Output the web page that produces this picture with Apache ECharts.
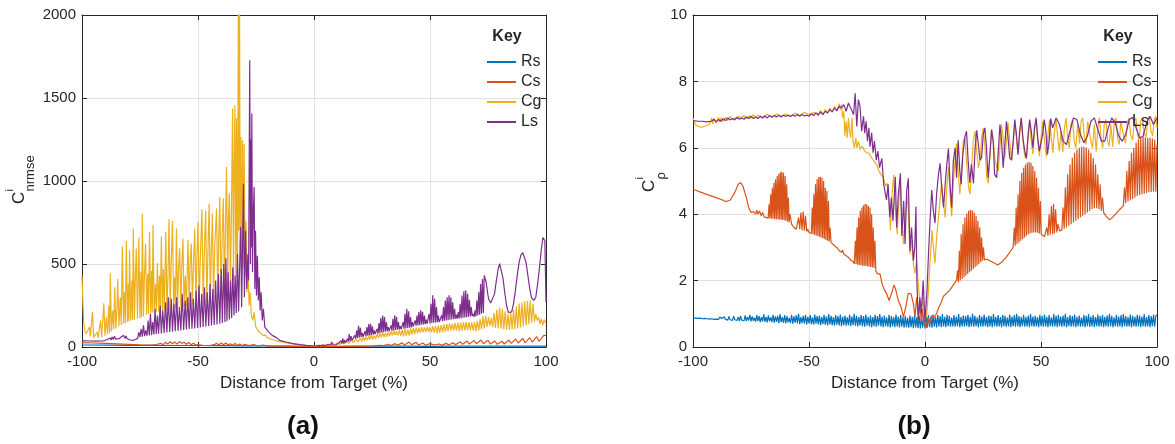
<!DOCTYPE html>
<html>
<head>
<meta charset="utf-8">
<script src="https://cdn.jsdelivr.net/npm/echarts@6/dist/echarts.min.js"></script>
<style>
  html, body { margin: 0; padding: 0; background: #fff; }
  #chart { width: 1175px; height: 444px; }
</style>
</head>
<body>
<div id="chart"></div>
<script>
// ---- shared axis content ----
const seriesNames = ['Rs', 'Cs', 'Cg', 'Ls'];
const seriesColors = ['#0072BD', '#D95319', '#EDB120', '#7E2F8E'];
const xTicks = { min: -100, max: 100, step: 50 };
const nrmseTicks = { min: 0, max: 2000, step: 500 };
const rhoTicks = { min: 0, max: 10, step: 2 };
const xTitle = 'Distance from Target (%)';

// ---- panel (a): normalised RMSE ----
const rsNrmse = [[-100,12],[-90,11],[-80,10],[-70,10],[-60,9],[-50,9],[-40,8],[-30,7],[-20,6],[-10,5],[0,4],[10,4],[20,5],[30,5],[40,5],[50,4],[60,5],[70,5],[80,5],[90,5],[100,5]];

const csNrmse = [[-100,26],[-95,24],[-90,22],[-85,19],[-80,16],[-75,13],[-70,12],[-68,15],[-66,22],[-65,14],[-64,28],[-63,18],[-62,32],[-61,20],[-60,30],[-59,17],[-58,33],[-57,22],[-56,29],[-55,16],[-54,27],[-53,14],[-52,22],[-51,12],[-50,15],[-48,10],[-45,9],[-43,14],[-42,22],[-41,12],[-40,25],[-39,14],[-38,24],[-37,12],[-36,20],[-35,10],[-34,22],[-33,10],[-32,18],[-31,8],[-30,16],[-28,8],[-26,14],[-24,6],[-22,12],[-20,5],[-15,6],[-10,4],[-5,3],[0,2],[5,2],[10,3],[15,4],[20,4],[25,6],[28,10],[30,8],[32,16],[33,9],[35,20],[36,10],[38,25],[39,12],[41,30],[42,14],[44,28],[45,12],[47,24],[48,10],[50,20],[52,12],[54,18],[55,10],[57,22],[58,12],[60,26],[61,14],[63,32],[64,16],[66,36],[67,18],[69,40],[70,20],[72,42],[73,20],[75,40],[76,18],[78,36],[79,16],[81,34],[82,18],[84,42],[85,22],[87,48],[88,24],[90,52],[91,26],[93,56],[94,30],[96,62],[97,34],[99,68],[100,70]];

const cgNrmse = [[-100,430],[-99.6,260],[-99.2,140],[-98.7,95],[-98.2,80],[-97.5,70],[-96.8,120],[-96.4,64],[-95.5,211],[-95,58],[-94.2,54],[-93.5,90],[-93,56],[-92,160],[-91.5,60],[-90.6,263],[-90.1,68],[-89.5,180],[-89,75],[-88.4,250],[-88.1,85],[-87.8,444],[-87.3,95],[-86.7,220],[-86.3,105],[-85.9,360],[-85.4,112],[-84.9,240],[-84.6,410],[-84.1,125],[-83.5,300],[-83.1,132],[-82.6,606],[-82.1,140],[-81.7,330],[-81.3,145],[-80.9,642],[-80.4,150],[-80,380],[-79.8,155],[-79.5,584],[-79,160],[-78.5,400],[-78.2,163],[-77.9,714],[-77.4,166],[-77,420],[-76.6,594],[-76.1,170],[-75.8,380],[-75.5,660],[-75,175],[-74.6,450],[-74.3,180],[-74,803],[-73.5,185],[-73.1,420],[-72.6,624],[-72.1,195],[-71.7,440],[-71.3,200],[-70.9,694],[-70.4,205],[-70,460],[-69.7,207],[-69.4,734],[-68.9,210],[-68.4,380],[-68,212],[-67.5,504],[-67,214],[-66.6,430],[-66.2,216],[-65.8,665],[-65.3,218],[-64.9,470],[-64.5,220],[-63.9,694],[-63.4,222],[-62.9,450],[-62.5,769],[-62,226],[-61.6,480],[-61,760],[-60.5,230],[-60.1,420],[-59.7,232],[-59.3,714],[-58.8,234],[-58.4,460],[-57.9,594],[-57.4,238],[-57,480],[-56.5,654],[-56,242],[-55.5,430],[-55,244],[-54.3,644],[-53.8,248],[-53.4,500],[-52.9,624],[-52.4,254],[-52,470],[-51.4,714],[-50.9,258],[-50.5,520],[-50,754],[-49.5,262],[-49,540],[-48.3,829],[-47.8,268],[-47.3,560],[-46.7,820],[-46.2,272],[-45.7,580],[-45.2,864],[-44.7,280],[-44.3,560],[-43.8,804],[-43.3,288],[-42.8,600],[-42,834],[-41.5,300],[-41.1,620],[-40.6,904],[-40.1,315],[-39.6,650],[-39.1,894],[-38.6,330],[-38.2,700],[-37.7,1084],[-37.2,345],[-36.9,760],[-36.5,924],[-36,370],[-35.6,800],[-35.1,1436],[-34.7,400],[-34.4,1100],[-34.1,1456],[-33.7,420],[-33.4,1380],[-33,450],[-32.6,2100],[-32.4,700],[-32.1,2100],[-31.8,600],[-31.5,1265],[-31.2,520],[-30.8,1245],[-30.5,480],[-30.1,1225],[-29.7,420],[-29.3,760],[-28.9,330],[-28.5,520],[-28,250],[-27.5,330],[-27,190],[-26.4,160],[-25.8,210],[-25.1,120],[-24.4,130],[-23.6,90],[-22.8,95],[-21.9,70],[-21,72],[-20,55],[-18,45],[-15.5,35],[-13,28],[-10,20],[-7,14],[-4,10],[-1,7],
[0,8],[1,5],[2,12],[3,7],[4,15],[5,9],[6,18],[7,11],[8,22],[9,13],[10,25],[11,15],[12,30],[13,18],[14,36],[15,22],[16,42],[17,26],[18,48],[19,30],[20,55],[20.6,32],[21.2,60],[21.8,36],[22.4,62],[23,40],[23.6,68],[24.2,44],[24.8,72],[25.4,46],[26,70],[26.6,50],[27.2,78],[27.8,54],[28.4,82],[29,58],[29.6,88],[30.2,60],[30.8,85],[31.4,62],[32,90],[32.6,66],[33.2,96],[33.8,70],[34.4,98],[35,72],[35.6,95],[36.2,70],[36.8,102],[37.4,66],[38,106],[38.6,64],[39.2,110],[39.8,66],[40.4,105],[41,70],[41.6,112],[42.2,74],[42.8,115],[43.4,78],[44,118],[44.6,82],[45.2,116],[45.8,86],[46.4,120],[47,88],[47.6,118],[48.2,90],[48.8,122],[49.4,92],[50,120],[50.6,90],[51.2,126],[51.8,86],[52.4,128],[53,84],[53.6,130],[54.2,86],[54.8,132],[55.4,88],[56,136],[56.6,92],[57.2,140],[57.8,96],[58.4,142],[59,98],[59.6,140],[60.2,100],[60.8,144],[61.4,98],[62,146],[62.6,96],[63.2,148],[63.8,98],[64.4,150],[65,100],[65.6,152],[66.2,102],[66.8,150],[67.4,100],[68,148],[68.6,98],[69.2,152],[69.8,96],[70.4,158],[71,100],[71.6,168],[72.2,106],[72.8,185],[73.4,112],[74,188],[74.6,120],[75.2,180],[75.8,128],[76.4,175],[77,120],[77.6,205],[78.2,115],[78.8,225],[79.4,112],[80,238],[80.6,110],[81.2,230],[81.8,106],[82.4,215],[83,104],[83.6,200],[84.2,102],[84.8,205],[85.4,104],[86,222],[86.6,108],[87.2,245],[87.8,112],[88.4,262],[89,118],[89.6,270],[90.2,124],[90.8,275],[91.4,130],[92,278],[92.6,138],[93.2,280],[93.8,146],[94.4,262],[95,152],[95.6,200],[96.2,160],[96.8,180],[97.4,140],[98,170],[98.6,130],[99.2,165],[100,140]];

const lsNrmse = [[-100,38],[-97,36],[-94,35],[-91,36],[-89,45],[-88.5,40],[-88,55],[-87.5,42],[-87,60],[-86.5,45],[-86,65],[-85.5,48],[-85,58],[-84,50],[-83,62],[-82.5,50],[-82,70],[-81.5,52],[-81,66],[-80.5,50],[-80,55],[-79,42],[-78,40],[-77,45],[-76,52],[-75.5,90],[-75,60],[-74.5,110],[-74,62],[-73.5,130],[-73,65],[-72.5,100],[-72,68],[-71.5,160],[-71,70],[-70.5,200],[-70,72],[-69.5,150],[-69,75],[-68.5,230],[-68,78],[-67.5,190],[-67,80],[-66.3,250],[-65.8,82],[-65.2,220],[-64.6,85],[-64,270],[-63.4,88],[-62.8,300],[-62.2,90],[-61.5,290],[-61,92],[-60.4,260],[-59.8,95],[-59.2,300],[-58.6,98],[-58,240],[-57.4,100],[-56.8,320],[-56.2,102],[-55.5,280],[-55,105],[-54.4,300],[-53.8,108],[-53.2,330],[-52.6,110],[-52,290],[-51.4,112],[-50.8,340],[-50.2,115],[-49.6,370],[-49,118],[-48.4,320],[-47.8,120],[-47.2,360],[-46.6,123],[-46,330],[-45.4,126],[-44.8,380],[-44.2,130],[-43.6,350],[-43,133],[-42.4,400],[-41.8,136],[-41.2,440],[-40.6,140],[-40,470],[-39.5,145],[-38.9,500],[-38.4,150],[-38,534],[-37.5,155],[-37,450],[-36.5,165],[-36,400],[-35.5,175],[-35,480],[-34.5,190],[-34,430],[-33.5,205],[-33,560],[-32.5,215],[-32,520],[-31.6,723],[-31.2,240],[-30.8,600],[-30.4,984],[-30,300],[-29.5,700],[-29,350],[-28.5,560],[-28.2,400],[-27.7,1727],[-27.4,500],[-27.2,1250],[-27,600],[-26.8,1406],[-26.5,450],[-26.2,800],[-25.8,964],[-25.5,350],[-25.2,700],[-24.8,311],[-24.4,550],[-24,280],[-23.6,420],[-23.2,220],[-22.8,330],[-22.3,160],[-21.8,230],[-21.2,120],[-20.5,120],[-19.5,90],[-18,70],[-16,55],[-14.8,40],[-12,30],[-9,20],[-6,14],[-3.3,10],
[0,6],[2,8],[4,10],[5,9],[6,14],[6.4,10],[6.8,22],[7.2,12],[7.6,30],[8,13],[8.4,24],[8.8,12],[9.4,12],[10,12],[10.8,25],[11.2,16],[11.6,38],[12,20],[12.4,52],[12.8,22],[13.2,42],[13.6,26],[14,30],[14.4,50],[14.8,32],[15.2,78],[15.6,36],[16,65],[16.4,40],[16.8,48],[17.2,45],[17.6,70],[18,50],[18.4,100],[18.8,55],[19.2,128],[19.6,58],[20,115],[20.4,60],[20.8,85],[21.2,62],[21.6,70],[22,95],[22.4,65],[22.8,120],[23.2,68],[23.6,138],[24,70],[24.4,140],[24.8,72],[25.2,125],[25.6,75],[26,100],[26.4,78],[26.8,85],[27.2,110],[27.6,80],[28,145],[28.4,84],[28.8,175],[29.2,88],[29.6,190],[30,90],[30.4,180],[30.8,92],[31.2,150],[31.6,94],[32,120],[32.4,96],[32.8,100],[33.2,130],[33.6,98],[34,170],[34.4,100],[34.8,191],[35.2,102],[35.6,180],[36,104],[36.4,150],[36.8,106],[37.2,125],[37.6,108],[38,112],[38.4,150],[38.8,110],[39.2,200],[39.6,112],[40,231],[40.4,114],[40.8,215],[41.2,116],[41.6,180],[42,118],[42.4,150],[42.8,125],[43.2,135],[43.6,160],[44,128],[44.4,190],[44.8,130],[45.2,210],[45.6,132],[46,221],[46.4,134],[46.8,212],[47.2,136],[47.6,190],[48,138],[48.4,165],[48.8,140],[49.2,145],[49.6,200],[50,142],[50.4,260],[50.8,144],[51.2,311],[51.6,146],[52,290],[52.4,148],[52.8,240],[53.2,150],[53.6,190],[54,150],[54.5,155],[55,190],[55.4,155],[55.8,240],[56.2,158],[56.6,280],[57,160],[57.4,300],[57.8,162],[58.2,311],[58.6,164],[59,300],[59.4,166],[59.8,270],[60.2,168],[60.6,230],[61,170],[61.4,195],[61.8,170],[62.2,210],[62.6,172],[63,260],[63.4,174],[63.8,310],[64.2,176],[64.6,335],[65,178],[65.4,341],[65.8,180],[66.2,320],[66.6,182],[67,285],[67.4,184],[67.8,240],[68.2,186],[68.6,200],[69,181],[69.4,220],[69.8,185],[70.2,280],[70.6,190],[71,330],[71.4,195],[71.8,380],[72.2,200],[72.6,410],[73,205],[73.4,432],[73.8,420],[74.2,390],[74.6,350],[75,310],[75.5,280],[76.2,266],[77,270],[77.8,320],[78.6,400],[79.4,470],[80,502],[80.6,490],[81.4,420],[82.2,330],[83,250],[83.8,208],[84.5,201],[85.2,212],[86,260],[86.8,340],[87.6,430],[88.4,510],[89.2,555],[90,568],[90.6,560],[91.4,510],[92.2,430],[93,350],[93.8,295],[94.8,281],[95.6,300],[96.4,380],[97.2,480],[98,590],[98.7,660],[99.1,669],[99.5,640],[99.8,420],[100,271]];

// ---- panel (b): correlation ----
// Rs is sampled every 0.5 % from -100 to 100
const rsRhoStep = 0.5;
const rsRho = [0.88,0.9,0.87,0.89,0.86,0.9,0.87,0.88,0.85,0.89,
0.86,0.88,0.85,0.9,0.84,0.87,0.85,0.89,0.83,0.88,
0.84,0.87,0.83,0.9,0.84,0.86,0.82,0.91,0.83,0.88,
0.81,0.92,0.82,0.87,0.8,0.93,0.82,0.88,0.8,0.9,
0.79,0.94,0.81,0.87,0.79,
0.95,0.78,0.9,0.8,0.97,0.77,0.92,0.79,0.88,0.76,
0.96,0.78,0.93,0.75,0.9,0.77,0.98,0.76,0.91,0.74,
0.95,0.77,0.89,0.75,0.97,0.73,0.92,0.76,0.94,0.72,
0.99,0.75,0.9,0.73,0.96,0.71,0.93,0.74,0.88,0.72,
0.97,0.7,0.92,0.73,0.95,0.71,1.0,0.69,0.9,0.72,
0.94,0.7,0.97,0.68,0.91,0.71,0.96,0.69,0.89,0.67,
0.98,0.7,0.93,0.68,0.95,0.66,0.9,0.69,0.97,0.67,
0.92,0.65,0.99,0.68,0.94,0.66,0.9,0.64,0.96,0.67,
0.93,0.65,0.98,0.63,0.91,0.66,0.95,0.64,0.89,0.65,
0.97,0.63,0.92,0.66,1.0,0.64,0.94,0.62,0.9,0.65,
0.96,0.63,0.93,0.61,0.98,0.64,0.91,0.62,0.95,0.6,
0.9,0.63,0.97,0.61,0.93,0.64,0.99,0.62,0.92,0.6,
0.95,0.63,0.89,0.61,0.97,0.59,0.93,0.62,0.9,0.6,
0.98,0.62,0.92,0.59,0.96,0.61,0.9,0.58,0.94,0.6,
0.88,0.58,0.95,0.6,0.91,0.57,0.97,0.59,0.9,0.57,
0.93,0.56,0.89,0.58,0.95,0.56,0.91,0.58,0.96,0.6,
0.92,0.58,0.98,0.61,0.9,0.59,0.96,0.62,0.93,0.6,
0.99,0.62,0.91,0.6,0.97,0.63,0.94,0.61,0.89,0.62,
0.96,0.61,0.92,0.63,0.99,0.6,0.9,0.62,0.95,0.61,
0.93,0.63,0.97,0.6,0.91,0.62,1.0,0.61,0.94,0.63,
0.89,0.6,0.96,0.62,0.92,0.61,0.98,0.63,0.9,0.6,
0.95,0.62,0.93,0.6,0.99,0.63,0.91,0.61,0.96,0.62,
0.9,0.6,0.97,0.63,0.94,0.61,0.89,0.62,0.98,0.6,
0.92,0.63,0.96,0.61,1.0,0.62,0.93,0.6,0.9,0.63,
0.97,0.61,0.91,0.62,0.95,0.6,0.99,0.63,0.92,0.61,
0.94,0.62,0.9,0.6,0.97,0.63,0.93,0.61,0.98,0.62,
0.91,0.6,0.96,0.63,0.89,0.61,0.99,0.62,0.94,0.6,
0.97,0.63,0.92,0.61,0.95,0.62,1.0,0.6,0.9,0.63,
0.96,0.61,0.93,0.62,0.98,0.6,0.91,0.63,0.95,0.61,
0.89,0.62,0.97,0.6,0.94,0.63,0.99,0.61,0.92,0.62,
0.96,0.6,0.9,0.63,0.98,0.61,0.93,0.62,0.97,0.6,
0.91,0.63,0.95,0.61,1.0,0.62,0.94,0.6,0.89,0.63,
0.97,0.61,0.92,0.62,0.96,0.6,0.99,0.63,0.93,0.61,
0.9,0.62,0.98,0.6,0.94,0.63,0.91,0.61,0.97,0.62,
0.95,0.6,0.92,0.63,0.99,0.61,0.9,0.62,0.96,0.6,
0.93,0.63,0.98,0.61,0.94,0.96];

const csRho = [[-100,4.75],[-95,4.62],[-90,4.5],[-87,4.42],[-86,4.38],[-84,4.42],[-82,4.65],[-80.5,4.9],[-79.5,4.95],[-78.5,4.85],[-77,4.5],[-76,4.2],[-75,4.05],[-74,4.08],[-73,4.0],[-72.5,4.12],[-72,4.0],[-71.3,4.1],[-70.6,3.95],[-70,4.05],[-69.3,3.92],[-68.6,3.96],[-67.6,3.88],
[-67.2,4.3],[-66.9,3.87],[-66.5,4.6],[-66.2,3.86],[-65.8,4.8],[-65.5,3.86],[-65.1,4.95],[-64.8,3.85],[-64.4,5.05],[-64.1,3.85],[-63.7,5.15],[-63.4,3.84],[-63,5.22],[-62.7,3.84],[-62.3,5.26],[-62,3.83],[-61.7,5.28],[-61.4,3.83],[-61,5.25],[-60.7,3.82],[-60.3,5.15],[-60,3.8],[-59.6,4.9],[-59.3,3.78],[-58.9,4.5],[-58.6,3.75],[-58.2,4.0],[-57.5,3.7],[-56.5,3.6],[-55.5,3.55],
[-54.5,3.9],[-54,3.55],[-53.5,4.05],[-53,3.52],[-52.5,4.08],[-52,3.5],[-51.5,3.95],[-51,3.48],[-50.5,3.55],[-50,3.45],[-49.5,3.5],[-49,3.42],
[-48.6,4.2],[-48.3,3.4],[-47.9,4.6],[-47.6,3.38],[-47.2,4.9],[-46.9,3.36],[-46.5,5.05],[-46.2,3.34],[-45.8,5.12],[-45.5,3.32],[-45.1,5.13],[-44.8,3.3],[-44.4,5.1],[-44.1,3.28],[-43.7,5.0],[-43.4,3.25],[-43,4.8],[-42.7,3.22],[-42.3,4.7],[-42,3.2],[-41.6,4.4],[-41.3,3.18],[-40.9,3.6],[-40.5,3.15],[-39,3.05],[-38,3.0],
[-37.5,2.95],[-37,2.9],[-36.5,2.96],[-36,2.85],[-35.5,2.92],[-35,2.8],[-34,2.75],[-33,2.7],[-32,2.62],[-31,2.57],[-30.5,2.5],
[-30,3.2],[-29.7,2.5],[-29.3,3.6],[-29,2.48],[-28.6,3.9],[-28.3,2.47],[-27.9,4.1],[-27.6,2.46],[-27.2,4.2],[-26.9,2.45],[-26.5,4.27],[-26.2,2.45],[-25.8,4.31],[-25.5,2.44],[-25.1,4.3],[-24.8,2.43],[-24.4,4.25],[-24.1,2.42],[-23.7,4.2],[-23.4,2.41],[-23,4.0],[-22.7,2.4],[-22.3,3.6],[-22,2.38],[-21.6,3.2],[-21.2,2.3],[-20.5,2.2],[-19.4,2.2],[-18.5,1.9],[-17.5,1.72],[-16.5,1.6],[-15.5,1.4],[-14.5,1.6],[-13.3,1.87],[-12.5,1.7],[-11.5,1.4],[-10.3,1.2],[-9.3,0.91],[-8.3,1.2],[-7.2,1.62],[-6,1.6],[-5,1.3],[-4.3,0.91],[-3.6,1.5],[-2.8,0.9],[-2.2,1.4],[-1.6,0.75],[-1,1.15],[-0.5,0.66],[0,0.8],[0.7,0.58],[1.3,0.9],[2,0.7],[3,0.95],[4,0.9],[5,1.01],[6,1.2],[7,1.35],[7.9,1.52],[9,1.6],[10.8,1.72],[12,1.85],[13.6,2.02],
[14,2.3],[14.4,1.95],[14.8,2.9],[15.2,2.0],[15.6,3.4],[16,2.05],[16.4,3.7],[16.8,2.1],[17.2,3.9],[17.6,2.15],[18,4.02],[18.4,2.2],[18.8,4.1],[19.2,2.25],[19.6,4.13],[20,2.3],[20.4,4.12],[20.8,2.35],[21.2,4.05],[21.6,2.4],[22,3.95],[22.4,2.45],[22.8,3.8],[23.2,2.5],[23.6,3.6],[24,2.55],[24.4,3.3],[24.8,2.6],[25.2,3.0],[25.6,2.62],[26.5,2.65],[28,2.6],[30,2.52],[31.4,2.47],[33,2.55],[35.2,2.72],[37,2.9],[38,3.0],
[38.5,3.6],[38.9,3.05],[39.3,4.2],[39.7,3.1],[40.1,4.6],[40.5,3.15],[40.9,5.0],[41.3,3.2],[41.7,5.25],[42.1,3.25],[42.5,5.4],[42.9,3.3],[43.3,5.5],[43.7,3.35],[44.1,5.56],[44.5,3.4],[44.9,5.58],[45.3,3.42],[45.7,5.55],[46.1,3.44],[46.5,5.45],[46.9,3.45],[47.3,5.3],[47.7,3.45],[48.1,5.1],[48.5,3.44],[48.9,4.8],[49.3,3.42],[49.7,4.4],[50.1,3.4],[50.6,3.35],[51.5,3.32],
[52.5,3.6],[53,3.35],[53.5,4.0],[54,3.38],[54.5,4.25],[55,3.4],[55.4,4.31],[55.8,3.42],[56.3,4.15],[56.8,3.45],[57.3,3.7],[58,3.5],[59,3.52],
[59.5,4.2],[60,3.56],[60.5,4.8],[61,3.6],[61.5,5.2],[62,3.65],[62.5,5.5],[63,3.7],[63.5,5.7],[64,3.75],[64.5,5.85],[65,3.8],[65.5,5.95],[66,3.85],[66.5,6.0],[67,3.9],[67.5,6.03],[68,3.95],[68.5,6.03],[69,4.0],[69.5,6.0],[70,4.05],[70.5,5.95],[71,4.1],[71.5,5.85],[72,4.15],[72.5,5.7],[73,4.18],[73.5,5.5],[74,4.18],[74.5,5.2],[75,4.15],[75.5,4.9],[76,4.1],[76.5,4.5],[77,4.05],[78,3.95],[79.6,3.83],[81,3.92],[82.5,4.03],[84,4.15],[85.5,4.25],
[86,4.8],[86.5,4.33],[87,5.3],[87.5,4.38],[88,5.6],[88.5,4.42],[89,5.85],[89.5,4.46],[90,6.0],[90.5,4.5],[91,6.15],[91.5,4.55],[92,6.25],[92.5,4.58],[93,6.3],[93.5,4.6],[94,6.33],[94.5,4.62],[95,6.32],[95.5,4.64],[96,6.3],[96.5,4.66],[97,6.3],[97.5,4.67],[98,6.28],[98.5,4.68],[99,6.25],[99.5,4.68],[100,6.1]];

const cgRho = [[-100,6.9],[-99.5,6.95],[-99,6.7],[-98,6.65],[-97,6.63],[-96,6.62],[-95,6.65],[-94,6.68],[-93,6.7],[-92,6.9],[-91.5,6.72],[-91,6.88],[-90,6.75],[-89,6.92],[-88.5,6.78],[-88,6.9],[-87,6.8],[-86,6.92],[-85,6.82],[-84,6.95],[-83,6.85],[-82,6.9],[-81,6.88],[-80,6.95],[-79,6.9],[-78,6.98],[-77,6.88],[-76,6.96],[-75,6.9],[-74,7.0],[-73,6.9],[-72,6.98],[-70,6.92],[-68,7.0],[-66,6.93],[-64,7.02],[-62,6.95],[-60,7.02],[-58,6.96],[-56,7.04],[-54,6.98],[-52,7.06],[-50,7.0],[-48,7.06],[-46,7.02],[-45,7.12],[-44,7.0],[-43,7.15],[-42,7.05],[-41,7.2],[-40,7.08],[-39,7.25],[-38,7.1],[-37,7.33],[-36.5,7.15],[-36,7.3],[-35.5,6.9],[-35,7.1],[-34.5,6.35],[-34,6.8],[-33.5,6.3],[-33,6.9],[-32.5,6.5],[-32,6.3],[-31.5,6.9],[-31,6.2],[-30.5,6.0],[-29.8,6.3],[-29.4,6.0],[-28.7,6.2],[-28,5.95],[-27,6.05],[-26,5.9],[-25,5.85],[-24,5.83],[-23,5.7],[-21,5.5],[-19.5,5.25],[-18,5.1],[-17,4.85],[-16.3,4.93],[-15.5,4.4],[-14.9,3.52],[-14.2,4.6],[-13.5,5.18],[-12.8,4.2],[-12,3.4],[-11.2,4.5],[-10.6,4.98],[-10,3.9],[-9.3,3.1],[-8.6,3.8],[-7.8,4.6],[-7.2,4.13],[-6.5,2.8],[-5.8,3.2],[-5,2.5],[-4.3,2.22],[-3.6,2.6],[-2.9,1.92],[-2.3,1.4],[-1.6,1.1],[-0.9,1.5],[-0.1,0.81],[0.7,0.95],[1.4,1.6],[2.2,2.6],[3,3.52],[3.6,3.0],[4.3,2.52],[5,3.3],[5.7,3.83],[6.4,4.4],[7.2,4.93],[8,4.3],[8.7,3.9],[9.4,4.8],[10.1,5.43],[10.8,4.6],[11.5,3.93],[12.2,4.9],[13,5.7],[13.6,6.13],[14.3,5.3],[15,4.6],[15.8,5.4],[16.5,6.2],[17.2,6.3],[18,5.5],[18.8,4.8],[19.4,4.6],[20.1,5.4],[20.8,6.2],[21.6,6.5],[22.3,5.9],[23,5.4],[23.7,5.6],[24.4,6.3],[25.1,6.6],[25.8,6.1],[26.6,5.1],[27.3,4.93],[28,5.8],[28.7,6.54],[29.4,6.2],[30.2,5.6],[30.9,5.63],[31.6,5.3],[32.3,6.0],[33,6.7],[33.7,6.3],[34.4,5.7],[35.1,6.2],[35.8,6.75],[36.5,6.2],[37.3,5.63],[38,6.1],[38.7,6.8],[39.4,6.3],[40.1,5.8],[40.8,6.4],[41.5,6.85],[42.2,6.2],[43,5.75],[43.7,5.68],[44.4,6.4],[45.1,6.8],[45.8,6.2],[46.5,5.8],[47.2,6.5],[47.9,6.85],[48.6,6.2],[49.3,5.75],[50,6.3],[50.7,6.8],[51.4,6.3],[52.3,5.73],[53,6.4],[53.7,6.85],[54.4,6.3],[55.1,5.85],[55.8,6.5],[56.5,6.85],[57.2,6.3],[57.9,5.9],[58.6,6.5],[59.4,5.87],[60.1,6.6],[60.8,6.9],[61.5,6.3],[62.2,6.0],[62.9,6.7],[63.6,6.85],[64.3,6.2],[65,6.0],[65.8,6.7],[66.6,6.13],[67.3,6.8],[68,6.9],[68.7,6.3],[69.4,6.1],[70.1,6.8],[70.8,6.85],[71.5,6.2],[72.2,6.0],[73,6.7],[73.8,5.88],[74.5,6.6],[75.2,6.9],[75.9,6.3],[76.6,6.0],[77.3,6.75],[78,6.85],[78.7,6.2],[79.4,6.05],[80.1,6.7],[80.9,6.03],[81.6,6.8],[82.3,6.9],[83,6.3],[83.7,6.1],[84.4,6.8],[85.1,6.85],[85.8,6.3],[86.5,6.15],[87.2,6.75],[87.9,6.9],[88.6,6.4],[89.5,6.23],[90.2,6.8],[90.9,6.9],[91.6,6.4],[92.3,6.25],[93,6.8],[93.7,6.92],[94.4,6.45],[95.3,6.33],[96,6.85],[96.7,6.95],[97.4,6.5],[98.1,6.35],[98.8,6.85],[99.5,6.95],[100,6.6]];

const lsRho = [[-100,6.82],[-98,6.8],[-96,6.8],[-94,6.78],[-92,6.8],[-91,6.86],[-90,6.78],[-89,6.85],[-88,6.8],[-87,6.88],[-86,6.82],[-85,6.9],[-84,6.84],[-83,6.88],[-82,6.84],[-81,6.92],[-80,6.86],[-79,6.9],[-78,6.86],[-77,6.93],[-76,6.88],[-75,6.95],[-74,6.88],[-73,6.93],[-72,6.88],[-71,6.95],[-70,6.9],[-69,6.96],[-68,6.9],[-67,6.97],[-66,6.92],[-65,6.97],[-64,6.93],[-63,6.98],[-62,6.93],[-61,6.98],[-60,6.94],[-59,6.98],[-58,6.94],[-57,6.99],[-56,6.95],[-55,7.0],[-54,6.95],[-53,7.0],[-52,6.96],[-51,6.98],[-50,6.95],[-49,7.02],[-48,6.97],[-47,7.05],[-46,6.98],[-45,7.08],[-44,7.0],[-43,7.1],[-42,7.05],[-41,7.15],[-40,7.08],[-39,7.2],[-38,7.12],[-37,7.25],[-36,7.2],[-35,7.3],[-34,7.1],[-33,7.35],[-32.3,7.24],[-31.5,7.3],[-30.8,7.0],[-30.1,7.64],[-29.4,6.64],[-28.7,7.45],[-28,7.24],[-27.3,6.5],[-26.5,6.95],[-26,6.44],[-25.4,6.8],[-24.8,6.2],[-24.2,6.6],[-23.7,6.03],[-23,6.45],[-22.4,5.85],[-21.8,6.2],[-21,5.63],[-20.3,5.9],[-19.6,5.4],[-18.6,5.68],[-17.8,4.9],[-16.6,4.43],[-15.9,4.9],[-15.2,3.92],[-14.5,4.5],[-13.8,3.8],[-12.8,5.13],[-12.2,3.6],[-11.5,4.6],[-10.6,5.23],[-10,3.35],[-9.2,4.4],[-8.6,3.1],[-7.9,4.7],[-7.2,5.08],[-6.5,2.9],[-5.8,3.6],[-5,2.6],[-4.4,3.0],[-3.9,4.23],[-3.5,2.0],[-3.2,1.4],[-2.9,0.81],[-2.2,1.5],[-1.6,1.0],[-0.8,2.0],[0,0.78],[0.8,1.6],[1.5,2.8],[2.2,3.83],[2.9,4.73],[3.6,4.1],[4.3,3.73],[5,4.6],[5.8,5.2],[6.5,5.53],[7.2,4.8],[8,4.2],[8.7,4.9],[9.4,5.5],[10.1,5.98],[10.8,4.9],[11.5,4.2],[12.2,5.6],[13,6.0],[13.6,5.1],[14.3,6.23],[15,5.3],[15.6,4.9],[16.3,5.8],[17.2,6.33],[17.9,6.5],[18.6,5.6],[19.3,4.95],[20,5.5],[20.9,4.93],[21.6,6.0],[22.3,6.53],[23,6.1],[23.7,5.63],[24.4,5.7],[25.1,6.4],[25.8,6.6],[26.5,6.0],[27.2,5.1],[28,5.8],[28.7,6.55],[29.4,6.2],[30,5.2],[30.9,5.1],[31.6,5.9],[32.3,6.7],[33,6.2],[33.7,5.4],[34.4,6.1],[35.1,6.8],[35.8,6.3],[36.5,5.7],[37.3,5.63],[38,6.2],[38.7,6.85],[39.4,6.4],[40.1,5.8],[40.8,6.5],[41.5,6.9],[42.2,6.3],[43,5.9],[43.7,5.68],[44.4,6.3],[45.1,6.85],[45.8,6.5],[46.5,6.0],[47.2,6.6],[47.9,6.9],[48.6,6.3],[49.3,5.9],[50,5.95],[50.7,6.4],[51.4,6.85],[52.1,6.5],[52.8,5.8],[53.5,6.2],[54.2,6.88],[55,6.6],[56.5,6.9],[58,6.7],[59.5,6.2],[61,6.1],[62.5,6.5],[64,6.9],[65.5,6.85],[67,6.4],[68.5,6.15],[70,6.35],[71.5,6.8],[73,6.9],[74.5,6.55],[76,6.2],[77.5,6.2],[79,6.6],[80.5,6.9],[82,6.75],[83.5,6.35],[85,6.2],[86.5,6.4],[88,6.85],[89.5,6.92],[91,6.6],[92.5,6.3],[94,6.35],[95.5,6.75],[97,6.95],[98.5,6.7],[100,6.9]];

const panelData = [
  [rsNrmse, csNrmse, cgNrmse, lsNrmse],
  [rsRho.map((v, i) => [xTicks.min + i * rsRhoStep, v]), csRho, cgRho, lsRho]
];

// ---- chart ----
const ink = '#262626';
const gridColor = '#e0e0e0';
const uiFont = 'Liberation Sans, Arial, sans-serif';
const grids = [
  { left: 82, top: 15, width: 464, height: 332 },
  { left: 693, top: 15, width: 464, height: 332 }
];
const yRanges = [nrmseTicks, rhoTicks];

const xAxes = [];
const yAxes = [];
grids.forEach((g, gi) => {
  const frameLine = { show: true, onZero: false, lineStyle: { color: ink, width: 1 } };
  const tick = { show: true, inside: true, length: 5, lineStyle: { color: ink } };
  xAxes.push({
    gridIndex: gi, type: 'value', position: 'bottom',
    min: xTicks.min, max: xTicks.max, interval: xTicks.step,
    axisLine: frameLine, axisTick: tick,
    axisLabel: { fontSize: 15, color: ink, margin: 7, fontFamily: uiFont, formatter: v => String(v) },
    splitLine: { show: true, lineStyle: { color: gridColor, width: 1 } },
    name: xTitle, nameLocation: 'middle', nameGap: 28,
    nameTextStyle: { fontSize: 17, color: ink, fontFamily: uiFont }
  });
  xAxes.push({
    gridIndex: gi, type: 'value', position: 'top',
    min: xTicks.min, max: xTicks.max, interval: xTicks.step,
    axisLine: frameLine, axisTick: tick, axisLabel: { show: false }, splitLine: { show: false }
  });
  const yr = yRanges[gi];
  yAxes.push({
    gridIndex: gi, type: 'value', position: 'left',
    min: yr.min, max: yr.max, interval: yr.step,
    axisLine: frameLine, axisTick: tick,
    axisLabel: { fontSize: 15, color: ink, margin: 6, fontFamily: uiFont, formatter: v => String(v) },
    splitLine: { show: true, lineStyle: { color: gridColor, width: 1 } }
  });
  yAxes.push({
    gridIndex: gi, type: 'value', position: 'right',
    min: yr.min, max: yr.max, interval: yr.step,
    axisLine: frameLine, axisTick: tick, axisLabel: { show: false }, splitLine: { show: false }
  });
});

const series = [];
panelData.forEach((sets, gi) => {
  sets.forEach((pts, si) => {
    series.push({
      name: seriesNames[si], type: 'line',
      xAxisIndex: gi * 2, yAxisIndex: gi * 2,
      data: pts, showSymbol: false, symbol: 'none', clip: true,
      lineStyle: { color: seriesColors[si], width: 1.2 },
      itemStyle: { color: seriesColors[si] },
      emphasis: { disabled: true }, silent: true
    });
  });
});

const legendBase = {
  orient: 'vertical', icon: 'rect', itemWidth: 29, itemHeight: 2, itemGap: 4,
  selectedMode: false, data: seriesNames,
  textStyle: { fontSize: 16, lineHeight: 16, color: ink, fontFamily: uiFont }
};

function yTitle(cx, cy, subText, subSize, subOffset, widthC) {
  return {
    type: 'group', x: cx, y: cy, rotation: Math.PI / 2, silent: true,
    children: [
      { type: 'text', style: { text: 'C', x: -widthC, y: 0, fontSize: 17, fontFamily: uiFont, fill: ink, align: 'left', verticalAlign: 'middle' } },
      { type: 'text', style: { text: 'i', x: -widthC + 12.5, y: -9, fontSize: 11, fontFamily: uiFont, fill: ink, align: 'left', verticalAlign: 'middle' } },
      { type: 'text', style: { text: subText, x: -widthC + 12.5, y: subOffset, fontSize: subSize, fontFamily: uiFont, fill: ink, align: 'left', verticalAlign: 'middle' } }
    ]
  };
}

const option = {
  animation: false,
  backgroundColor: '#ffffff',
  grid: grids,
  xAxis: xAxes,
  yAxis: yAxes,
  series: series,
  legend: [
    Object.assign({ left: 482, top: 49 }, legendBase),
    Object.assign({ left: 1093, top: 49 }, legendBase)
  ],
  graphic: [
    { type: 'text', silent: true, style: { text: 'Key', x: 507, y: 37, fontSize: 16, fontWeight: 'bold', fontFamily: uiFont, fill: ink, align: 'center', verticalAlign: 'middle' } },
    { type: 'text', silent: true, style: { text: 'Key', x: 1118, y: 37, fontSize: 16, fontWeight: 'bold', fontFamily: uiFont, fill: ink, align: 'center', verticalAlign: 'middle' } },
    yTitle(19, 180, 'nrmse', 13, 11, 24),
    yTitle(649, 181, 'ρ', 13, 12, 11),
    { type: 'text', silent: true, style: { text: '(a)', x: 303, y: 427, fontSize: 26, fontWeight: 'bold', fontFamily: uiFont, fill: '#111', align: 'center', verticalAlign: 'middle' } },
    { type: 'text', silent: true, style: { text: '(b)', x: 914, y: 427, fontSize: 26, fontWeight: 'bold', fontFamily: uiFont, fill: '#111', align: 'center', verticalAlign: 'middle' } }
  ]
};

const chart = echarts.init(document.getElementById('chart'), null, { renderer: 'canvas' });
chart.setOption(option);
</script>
</body>
</html>
